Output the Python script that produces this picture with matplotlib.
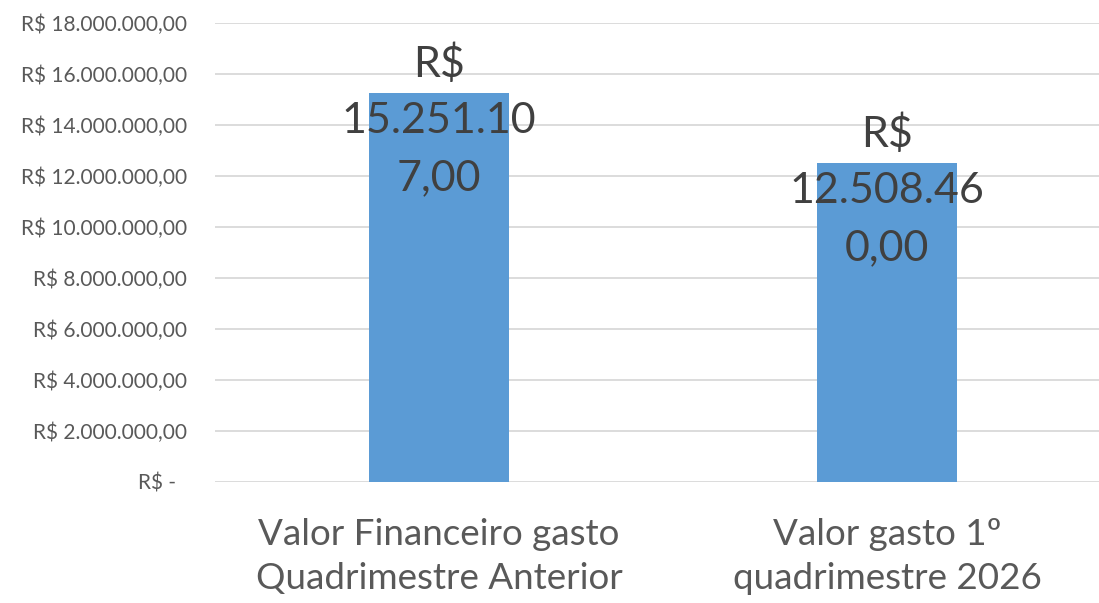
import matplotlib
matplotlib.use("Agg")
import matplotlib.pyplot as plt
from matplotlib.ticker import FuncFormatter, MultipleLocator

plt.rcParams['font.family'] = ['Lato', 'DejaVu Sans']

categories = ["Valor Financeiro gasto\nQuadrimestre Anterior",
              "Valor gasto 1º\nquadrimestre 2026"]
values = [15251107.00, 12508460.00]


def brl(v, decimals=2):
    s = f"{v:,.{decimals}f}"
    return s.replace(",", "X").replace(".", ",").replace("X", ".")


def tick_fmt(v, pos):
    if v == 0:
        return "R$ -  "
    return "R$ " + brl(v)


def wrap_label(s, width=9):
    # break at spaces first, then chop long words (like the spreadsheet)
    out = []
    for word in s.split(" "):
        while len(word) > width:
            out.append(word[:width])
            word = word[width:]
        out.append(word)
    return "\n".join(out)


fig = plt.figure(figsize=(10.99, 6.03), dpi=100)
W, H = 1099, 603
ax = fig.add_axes([215 / W, 121 / H, 896 / W, 459 / H])

x = range(len(values))
bars = ax.bar(x, values, width=0.3125, color="#5B9BD5", zorder=2)

ax.set_xlim(-0.5, len(values) - 0.5)
ax.set_ylim(0, 18000000)
ax.yaxis.set_major_locator(MultipleLocator(2000000))
ax.yaxis.set_major_formatter(FuncFormatter(tick_fmt))
ax.grid(axis="y", color="#D9D9D9", linewidth=1.3, zorder=0)
ax.set_axisbelow(True)
for sp in ax.spines.values():
    sp.set_visible(False)

ax.set_xticks(list(x))
ax.set_xticklabels(categories, fontsize=26.5, color="#595959", linespacing=1.42)
ax.tick_params(axis="x", length=0, pad=26)
ax.tick_params(axis="y", length=0, pad=20, labelsize=15, labelcolor="#595959")

# data labels
for i, v in enumerate(values):
    lbl = wrap_label("R$ " + brl(v))
    ax.annotate(lbl, xy=(i, v), xytext=(0, 36), textcoords="offset points",
                ha="center", va="top", fontsize=31, color="#404040",
                linespacing=1.6, zorder=3)

fig.savefig("out.png", dpi=100)
